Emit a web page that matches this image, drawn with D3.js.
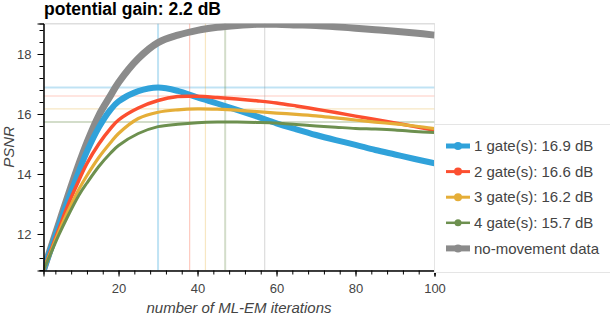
<!DOCTYPE html>
<html>
<head>
<meta charset="utf-8">
<script src="https://cdn.jsdelivr.net/npm/d3@7"></script>
<style>
  body { margin: 0; background: #fff; }
  text { font-family: "Liberation Sans", Arial, Helvetica, sans-serif; }
</style>
</head>
<body>
<div id="chart"></div>
<script>
// Data
const iterations = [1, 3, 5, 7, 10, 12, 15, 18, 20, 25, 30, 35, 40, 45, 50, 55, 60, 65, 70, 75, 80, 85, 90, 95, 100]

const gate1 = [10.8, 11.55, 12.3, 13.05, 14.1, 14.75, 15.55, 16.15, 16.42, 16.76, 16.88, 16.77, 16.55, 16.35, 16.14, 15.92, 15.69, 15.49, 15.3, 15.13, 14.97, 14.8, 14.65, 14.5, 14.36]
const gate2 = [10.8, 11.5, 12.2, 12.9, 13.8, 14.35, 15.0, 15.52, 15.8, 16.2, 16.45, 16.58, 16.59, 16.55, 16.5, 16.44, 16.37, 16.27, 16.16, 16.05, 15.93, 15.82, 15.7, 15.58, 15.46]
const gate3 = [10.8, 11.45, 12.1, 12.7, 13.5, 13.95, 14.55, 15.05, 15.35, 15.85, 16.06, 16.14, 16.17, 16.16, 16.13, 16.08, 16.03, 15.99, 15.94, 15.87, 15.8, 15.73, 15.67, 15.6, 15.51]
const gate4 = [10.8, 11.4, 12.0, 12.55, 13.3, 13.7, 14.25, 14.7, 14.95, 15.35, 15.58, 15.66, 15.71, 15.73, 15.73, 15.72, 15.7, 15.65, 15.6, 15.56, 15.52, 15.5, 15.47, 15.42, 15.38]
const noMovement = [10.8, 11.6, 12.4, 13.2, 14.35, 15.05, 15.95, 16.62, 17.05, 17.85, 18.38, 18.63, 18.79, 18.89, 18.95, 18.99, 18.99, 18.97, 18.95, 18.91, 18.86, 18.81, 18.76, 18.7, 18.63]

const seriesNames = ['1 gate(s): 16.9 dB', '2 gate(s): 16.6 dB', '3 gate(s): 16.2 dB', '4 gate(s): 15.7 dB', 'no-movement data']
const seriesValues = [gate1, gate2, gate3, gate4, noMovement]
const colors = ['#30a2da', '#fc4f30', '#e5ae38', '#6d904f', '#8b8b8b']

// best iteration and best PSNR of every series
const bestIter = [30, 38, 42, 47, 57]
const bestPsnr = [16.88, 16.6, 16.17, 15.73, 19.0]

const xTicks = [20, 40, 60, 80, 100]
const yTicks = [12, 14, 16, 18]

// Dimensions
const width = 610, height = 316
const plot = { left: 43.5, right: 434.5, top: 23.5, bottom: 270.5 }

const svg = d3.select('#chart')
  .append('svg')
  .attr('width', width)
  .attr('height', height)

// scales
const x = d3.scaleLinear().domain([1, 100]).range([plot.left, plot.right])
const y = d3.scaleLinear().domain([10.783, 19.017]).range([plot.bottom, plot.top])

svg.append('clipPath').attr('id', 'clip')
  .append('rect')
  .attr('x', plot.left).attr('y', plot.top)
  .attr('width', plot.right - plot.left).attr('height', plot.bottom - plot.top)

// frame
svg.append('rect')
  .attr('x', plot.left).attr('y', plot.top)
  .attr('width', plot.right - plot.left).attr('height', plot.bottom - plot.top)
  .attr('fill', 'none').attr('stroke', '#e5e5e5')

const g = svg.append('g').attr('clip-path', 'url(#clip)')

// marker lines at the best iteration / value
const markWidth = [2, 1.2, 1.2, 2, 1.2]
bestIter.forEach((it, i) => {
  g.append('line')
    .attr('x1', x(it)).attr('x2', x(it))
    .attr('y1', plot.top).attr('y2', plot.bottom)
    .attr('stroke', colors[i]).attr('stroke-opacity', 0.3)
    .attr('stroke-width', markWidth[i])
  g.append('line')
    .attr('x1', plot.left).attr('x2', plot.right)
    .attr('y1', y(bestPsnr[i])).attr('y2', y(bestPsnr[i]))
    .attr('stroke', colors[i]).attr('stroke-opacity', 0.3)
    .attr('stroke-width', markWidth[i])
})

// curves, thickest drawn first
const lineWidth = [6, 3.5, 3.2, 3, 7]
const line = d3.line()
  .x((d, i) => x(iterations[i]))
  .y(d => y(d))
  .curve(d3.curveCatmullRom.alpha(0.5))

const order = [4, 0, 1, 2, 3]
order.forEach(i => {
  g.append('path')
    .attr('d', line(seriesValues[i]))
    .attr('fill', 'none')
    .attr('stroke', colors[i])
    .attr('stroke-width', lineWidth[i])
    .attr('stroke-linejoin', 'round')
})

// axes
const xAxis = svg.append('g').attr('transform', `translate(0,${plot.bottom})`)
xAxis.append('g')
  .call(d3.axisBottom(x).tickValues(d3.range(4, 101, 4)).tickSize(4).tickFormat(''))
xAxis.append('g')
  .call(d3.axisBottom(x).tickValues(xTicks).tickSize(6).tickPadding(7))
xAxis.selectAll('path').attr('stroke', '#000')
xAxis.selectAll('line').attr('stroke', '#000')
xAxis.selectAll('text').attr('fill', '#444').style('font-size', '13px')

const yAxis = svg.append('g').attr('transform', `translate(${plot.left},0)`)
yAxis.append('g')
  .call(d3.axisLeft(y).tickValues(d3.range(10.8, 19.01, 0.4)).tickSize(4).tickFormat(''))
yAxis.append('g')
  .call(d3.axisLeft(y).tickValues(yTicks).tickSize(6).tickPadding(6))
yAxis.selectAll('path').attr('stroke', '#000')
yAxis.selectAll('line').attr('stroke', '#000')
yAxis.selectAll('text').attr('fill', '#444').style('font-size', '13px')

// labels
svg.append('text')
  .attr('x', 44).attr('y', 15)
  .style('font-size', '17.5px').style('font-weight', 'bold')
  .text('potential gain: 2.2 dB')

svg.append('text')
  .attr('x', (plot.left + plot.right) / 2).attr('y', 313)
  .attr('text-anchor', 'middle')
  .style('font-size', '15px').style('font-style', 'italic').attr('fill', '#444')
  .text('number of ML-EM iterations')

svg.append('text')
  .attr('transform', `translate(14,${(plot.top + plot.bottom) / 2}) rotate(-90)`)
  .attr('text-anchor', 'middle')
  .style('font-size', '15px').style('font-style', 'italic').attr('fill', '#444')
  .text('PSNR')

// legend
const legend = svg.append('g')
legend.append('rect')
  .attr('x', 434.5).attr('y', 124.5)
  .attr('width', 200).attr('height', 148)
  .attr('fill', '#fff').attr('stroke', '#e5e5e5')

const legendWidth = [5, 3, 3, 2.5, 6]
const legendR = [4, 4, 4, 3.5, 4]
seriesNames.forEach((name, i) => {
  const row = legend.append('g').attr('transform', `translate(0,${146 + i * 25.6})`)
  row.append('line')
    .attr('x1', 446).attr('x2', 470)
    .attr('stroke', colors[i]).attr('stroke-width', legendWidth[i])
  row.append('circle')
    .attr('cx', 458).attr('r', legendR[i])
    .attr('fill', colors[i])
  row.append('text')
    .attr('x', 474).attr('dy', '0.35em')
    .style('font-size', '15px').attr('fill', '#444')
    .text(name)
})
</script>
</body>
</html>
